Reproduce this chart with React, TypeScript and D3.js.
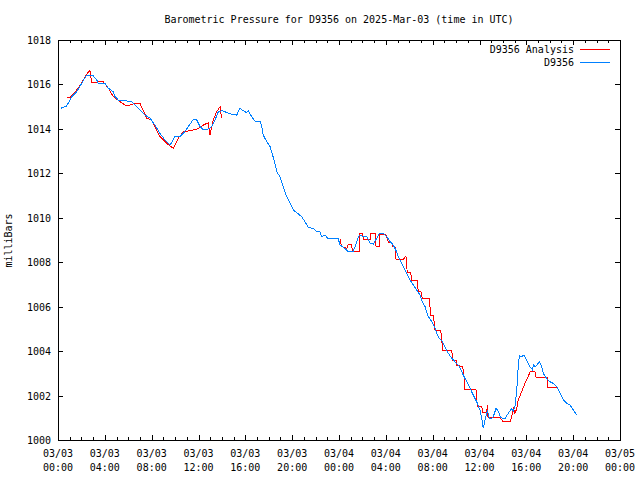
import React from "react";
import * as d3 from "d3";

const TITLE = "Barometric Pressure for D9356 on 2025-Mar-03 (time in UTC)";
const Y_LABEL = "milliBars";
const SERIES_NAMES = ["D9356 Analysis", "D9356"];
const SERIES_COLORS = ["#ff0000", "#0080ff"];
const START_UTC = Date.UTC(2025, 2, 3, 0, 0);
const END_UTC = Date.UTC(2025, 2, 5, 0, 0);
const Y_DOMAIN = [1000, 1018];
const Y_TICKS = [1000, 1002, 1004, 1006, 1008, 1010, 1012, 1014, 1016, 1018];

// [hours since 2025-03-03 00:00 UTC, pressure mb]
const stationObs: [number, number][] = [
  [0.26, 1014.93], [0.74, 1015.03], [1.17, 1015.45], [1.6, 1015.67], [2.02, 1016.05],
  [2.39, 1016.38], [2.59, 1016.42], [2.96, 1016.42], [3.31, 1016.2], [3.44, 1016.05],
  [4.01, 1016.05], [4.3, 1015.83], [4.72, 1015.67], [4.87, 1015.45], [5.15, 1015.3],
  [5.72, 1015.3], [6.0, 1015.22], [6.29, 1015.22], [6.58, 1015.07], [7.0, 1014.85],
  [7.43, 1014.62], [7.86, 1014.48], [8.28, 1014.17], [8.71, 1013.8], [9.14, 1013.5],
  [9.57, 1013.27], [9.99, 1013.65], [10.42, 1013.65], [10.7, 1013.8], [11.13, 1014.1],
  [11.56, 1014.43], [11.85, 1014.4], [12.13, 1014.1], [12.41, 1013.95], [12.84, 1014.0],
  [13.13, 1014.1], [13.41, 1014.4], [13.69, 1014.77], [13.98, 1014.82], [14.26, 1014.77],
  [14.84, 1014.65], [15.26, 1014.62], [15.54, 1014.92], [15.83, 1014.82], [16.12, 1014.73],
  [16.25, 1014.82], [16.54, 1014.55], [16.83, 1014.35], [17.25, 1014.35], [17.4, 1014.1],
  [17.53, 1013.72], [17.83, 1013.42], [18.11, 1013.2], [18.25, 1012.97], [18.53, 1012.45],
  [18.68, 1012.07], [18.96, 1011.85], [19.24, 1011.4], [19.53, 1010.95], [19.82, 1010.65],
  [20.1, 1010.35], [20.39, 1010.23], [20.81, 1010.05], [21.1, 1009.82], [21.38, 1009.57],
  [21.81, 1009.52], [22.1, 1009.37], [22.38, 1009.37], [22.52, 1009.15], [22.8, 1009.22],
  [23.09, 1009.05], [23.94, 1009.05], [24.09, 1008.77], [24.51, 1008.62], [24.79, 1008.47],
  [25.08, 1008.47], [25.22, 1008.5], [25.37, 1008.7], [25.65, 1009.15], [25.79, 1009.22],
  [26.08, 1009.15], [26.37, 1009.15], [26.65, 1008.85], [26.93, 1008.82], [27.22, 1009.07],
  [27.44, 1009.3], [27.78, 1009.3], [28.07, 1009.15], [28.36, 1008.93], [28.64, 1008.77],
  [28.93, 1008.47], [29.06, 1008.25], [29.21, 1008.1], [29.49, 1007.8], [29.78, 1007.5],
  [30.06, 1007.2], [30.35, 1006.97], [30.64, 1006.75], [30.92, 1006.52], [31.06, 1006.3],
  [31.35, 1006.0], [31.63, 1005.55], [31.92, 1005.33], [32.2, 1005.03], [32.34, 1004.8],
  [32.57, 1004.58], [32.77, 1004.47], [33.05, 1004.2], [33.34, 1003.9], [33.63, 1003.68],
  [33.91, 1003.52], [34.28, 1003.3], [34.62, 1002.92], [34.91, 1002.62], [35.19, 1002.33],
  [35.47, 1002.02], [35.76, 1001.72], [36.04, 1001.35], [36.19, 1000.97], [36.32, 1000.53],
  [36.47, 1000.9], [36.62, 1001.2], [36.67, 1001.35], [36.84, 1000.97], [37.04, 1000.97],
  [37.18, 1001.05], [37.41, 1001.42], [37.61, 1001.3], [37.81, 1001.0], [38.18, 1000.97],
  [38.46, 1001.2], [38.75, 1001.42], [38.89, 1001.3], [39.03, 1001.5], [39.18, 1002.25],
  [39.31, 1003.3], [39.4, 1003.8], [39.6, 1003.75], [39.8, 1003.82], [40.03, 1003.6],
  [40.31, 1003.3], [40.54, 1003.15], [40.6, 1003.4], [40.74, 1003.3], [40.89, 1003.37],
  [41.11, 1003.52], [41.31, 1003.3], [41.45, 1003.0], [41.74, 1002.77], [42.02, 1002.62],
  [42.3, 1002.55], [42.59, 1002.4], [42.88, 1002.1], [43.16, 1001.8], [43.45, 1001.65],
  [43.73, 1001.57], [44.01, 1001.35], [44.3, 1001.12],
];

const analysisSeg1: [number, number][] = [
  [0.74, 1015.4], [1.02, 1015.4], [1.73, 1015.83], [2.5, 1016.5], [2.73, 1016.62],
  [2.88, 1016.1], [3.87, 1016.12], [4.3, 1015.83], [4.72, 1015.45], [5.3, 1015.22],
  [5.87, 1015.03], [6.58, 1015.15], [7.0, 1015.15], [7.58, 1014.48], [8.0, 1014.4],
  [8.71, 1013.65], [9.28, 1013.35], [9.85, 1013.13], [10.27, 1013.58], [10.7, 1013.87],
  [11.27, 1013.92], [11.85, 1013.98], [12.41, 1014.17], [12.84, 1014.28], [12.98, 1013.73],
  [13.26, 1014.4], [13.55, 1014.77], [13.84, 1015.0], [13.98, 1014.48],
];

const analysisSeg2: [number, number][] = [
  [24.09, 1009.03], [24.23, 1008.7], [24.66, 1008.62], [24.79, 1008.8], [25.08, 1008.8],
  [25.14, 1008.5], [25.73, 1008.5], [25.79, 1009.3], [25.99, 1009.3], [26.08, 1009.03],
  [26.65, 1009.03], [26.73, 1009.3], [27.08, 1009.3], [27.16, 1008.73], [27.44, 1008.73],
  [27.5, 1009.27], [27.93, 1009.27], [28.07, 1009.15], [28.21, 1008.9], [28.5, 1008.9],
  [28.59, 1008.7], [28.78, 1008.7], [28.87, 1008.13], [29.49, 1008.13], [29.72, 1008.28],
  [29.83, 1007.53], [30.12, 1007.53], [30.21, 1007.2], [30.69, 1007.2], [30.77, 1006.67],
  [31.0, 1006.67], [31.12, 1006.35], [31.71, 1006.35], [31.83, 1005.62], [32.06, 1005.62],
  [32.2, 1004.95], [32.69, 1004.95], [32.86, 1004.05], [33.63, 1004.05], [33.71, 1003.6],
  [33.99, 1003.6], [34.05, 1003.37], [34.56, 1003.3], [34.68, 1002.85], [34.76, 1002.28],
  [35.7, 1002.28], [35.81, 1001.53], [36.19, 1001.53], [36.27, 1001.25], [36.62, 1001.25],
  [36.67, 1001.57], [36.73, 1001.0], [37.75, 1001.0], [38.03, 1000.82], [38.61, 1000.82],
  [38.75, 1001.05], [38.89, 1001.42], [39.03, 1001.2], [39.18, 1001.42], [39.31, 1001.8],
  [39.6, 1002.17], [39.88, 1002.55], [40.16, 1002.85], [40.31, 1003.07], [40.74, 1003.07],
  [40.83, 1002.82], [41.45, 1002.82], [41.77, 1002.82], [41.83, 1002.37], [42.74, 1002.37],
];

const W = 640;
const H = 480;
const M = { left: 58, right: 620, top: 40, bottom: 440 };
const FONT = "'DejaVu Sans Mono', 'Liberation Mono', monospace";

const toDate = (h: number) => new Date(START_UTC + h * 3600 * 1000);

export default function App() {
  const x = d3.scaleUtc().domain([new Date(START_UTC), new Date(END_UTC)]).range([M.left, M.right]);
  const y = d3.scaleLinear().domain(Y_DOMAIN).range([M.bottom, M.top]);

  const line = d3
    .line<[number, number]>()
    .x((d) => x(toDate(d[0])))
    .y((d) => y(d[1]));

  const majorTicks = d3.utcHour.every(4)!.range(new Date(START_UTC), new Date(END_UTC + 1));
  const minorTicks = d3.utcHour.every(1)!.range(new Date(START_UTC), new Date(END_UTC + 1));
  const fmtDate = d3.utcFormat("%m/%d");
  const fmtTime = d3.utcFormat("%H:%M");

  const px = (v: number) => Math.round(v) + 0.5;
  const majorLen = 5;
  const minorLen = 3;

  const legendRows = [
    { name: SERIES_NAMES[0], color: SERIES_COLORS[0], yy: 49.5 },
    { name: SERIES_NAMES[1], color: SERIES_COLORS[1], yy: 62.5 },
  ];

  return (
    <svg
      width={W}
      height={H}
      style={{ position: "absolute", left: 0, top: 0, background: "#fff" }}
      fontFamily={FONT}
      fontSize={10}
    >
      <rect x={0} y={0} width={W} height={H} fill="#fff" />
      <text x={339} y={23} textAnchor="middle" fill="#000">
        {TITLE}
      </text>
      <text transform={`translate(11.5, 240.5) rotate(-90)`} textAnchor="middle" fill="#000">
        {Y_LABEL}
      </text>

      {Y_TICKS.map((t) => {
        const yy = px(y(t));
        return (
          <g key={"y" + t}>
            <line x1={M.left} x2={M.left + majorLen} y1={yy} y2={yy} stroke="#000" shapeRendering="crispEdges" />
            <line x1={M.right - majorLen} x2={M.right} y1={yy} y2={yy} stroke="#000" shapeRendering="crispEdges" />
            <text x={51} y={yy} dy="0.35em" textAnchor="end" fill="#000">
              {t}
            </text>
          </g>
        );
      })}

      {minorTicks.map((d, i) => {
        const xx = px(x(d));
        return (
          <g key={"m" + i}>
            <line x1={xx} x2={xx} y1={M.bottom} y2={M.bottom - minorLen} stroke="#000" shapeRendering="crispEdges" />
            <line x1={xx} x2={xx} y1={M.top} y2={M.top + minorLen} stroke="#000" shapeRendering="crispEdges" />
          </g>
        );
      })}
      {majorTicks.map((d, i) => {
        const xx = px(x(d));
        return (
          <g key={"M" + i}>
            <line x1={xx} x2={xx} y1={M.bottom} y2={M.bottom - majorLen} stroke="#000" shapeRendering="crispEdges" />
            <line x1={xx} x2={xx} y1={M.top} y2={M.top + majorLen} stroke="#000" shapeRendering="crispEdges" />
            <text x={x(d)} y={457} textAnchor="middle" fill="#000">
              {fmtDate(d)}
            </text>
            <text x={x(d)} y={471} textAnchor="middle" fill="#000">
              {fmtTime(d)}
            </text>
          </g>
        );
      })}

      <path d={line(analysisSeg1) || ""} fill="none" stroke={SERIES_COLORS[0]} strokeWidth={1} shapeRendering="crispEdges" />
      <path d={line(analysisSeg2) || ""} fill="none" stroke={SERIES_COLORS[0]} strokeWidth={1} shapeRendering="crispEdges" />
      <path d={line(stationObs) || ""} fill="none" stroke={SERIES_COLORS[1]} strokeWidth={1} shapeRendering="crispEdges" />

      {legendRows.map((r) => (
        <g key={r.name}>
          <text x={574} y={r.yy} dy="0.35em" textAnchor="end" fill="#000">
            {r.name}
          </text>
          <line x1={580} x2={610} y1={r.yy} y2={r.yy} stroke={r.color} shapeRendering="crispEdges" />
        </g>
      ))}

      <rect
        x={px(M.left)}
        y={px(M.top)}
        width={Math.round(M.right) - Math.round(M.left)}
        height={Math.round(M.bottom) - Math.round(M.top)}
        fill="none"
        stroke="#000"
        shapeRendering="crispEdges"
      />
    </svg>
  );
}
